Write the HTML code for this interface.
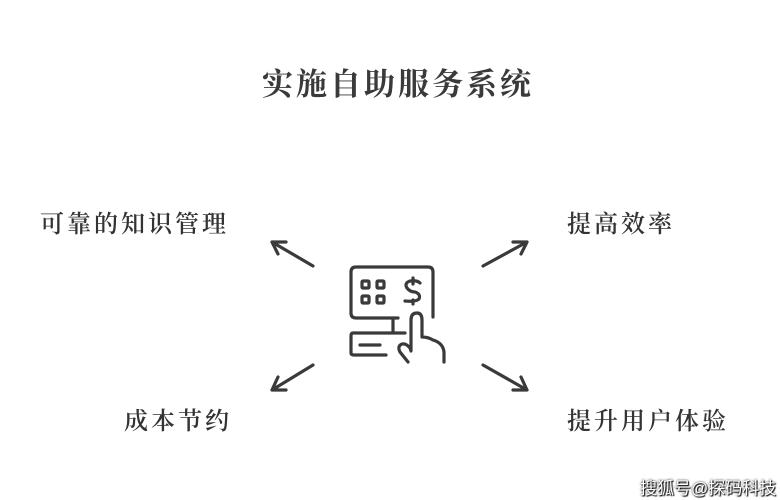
<!DOCTYPE html>
<html><head><meta charset="utf-8"><style>
body{margin:0;width:780px;height:500px;background:#fff;position:relative;overflow:hidden;font-family:"Liberation Serif","Noto Serif CJK SC",serif;color:#333}
.t{position:absolute;white-space:nowrap;letter-spacing:3px;font-size:24px;font-weight:600}
</style></head><body>
<div class="t" style="left:262px;top:59px;font-size:31px;font-weight:bold;color:#3a3a3a;letter-spacing:3px">实施自助服务系统</div>
<div class="t" style="left:40px;top:204px">可靠的知识管理</div>
<div class="t" style="left:567px;top:204px">提高效率</div>
<div class="t" style="left:124px;top:401px">成本节约</div>
<div class="t" style="left:567px;top:401px">提升用户体验</div>
<div class="t" style="left:640px;top:474px;font-size:17px;font-weight:normal;color:#fff;letter-spacing:0;font-family:'Liberation Sans','Noto Sans CJK SC',sans-serif;text-shadow:0 0 2px #000,1px 1px 1px #000">搜狐号@探码科技</div>
<svg width="780" height="500" style="position:absolute;left:0;top:0" fill="none" stroke="#3a3a3a" stroke-width="3.2" stroke-linecap="round" stroke-linejoin="round">
<path d="M313 266L272 242M272 242L286 242M272 242L278 254"/>
<path d="M483 266L527 242M527 242L513 242M527 242L521 254"/>
<path d="M313 365L272 390M272 390L278 377M272 390L286 390"/>
<path d="M483 365L527 390M527 390L521 377M527 390L513 390"/>
<path d="M398 318H356Q351 318 351 313V272Q351 267 356 267H428Q433 267 433 272V317"/>
<rect x="362" y="281" width="7" height="7" rx="1"/><rect x="377" y="281" width="7" height="7" rx="1"/>
<rect x="362" y="296" width="7" height="7" rx="1"/><rect x="377" y="296" width="7" height="7" rx="1"/>
<path d="M420 283Q417 280 410 281Q404 283 407 288Q410 292 415 292Q421 294 419 299Q416 302 405 301M413 278V284M413 300V304"/>
<path d="M393 318V333M405 333H353Q351 333 351 336V353Q351 355 354 355H386M360 345H380"/>
<path d="M408 362L400 352Q397 346 402 344Q406 343 410 348L411 351V320Q411 313 417 313Q422 313 422 320V337Q428 337 433 340Q443 343 444 352V362"/>
</svg>
</body></html>
